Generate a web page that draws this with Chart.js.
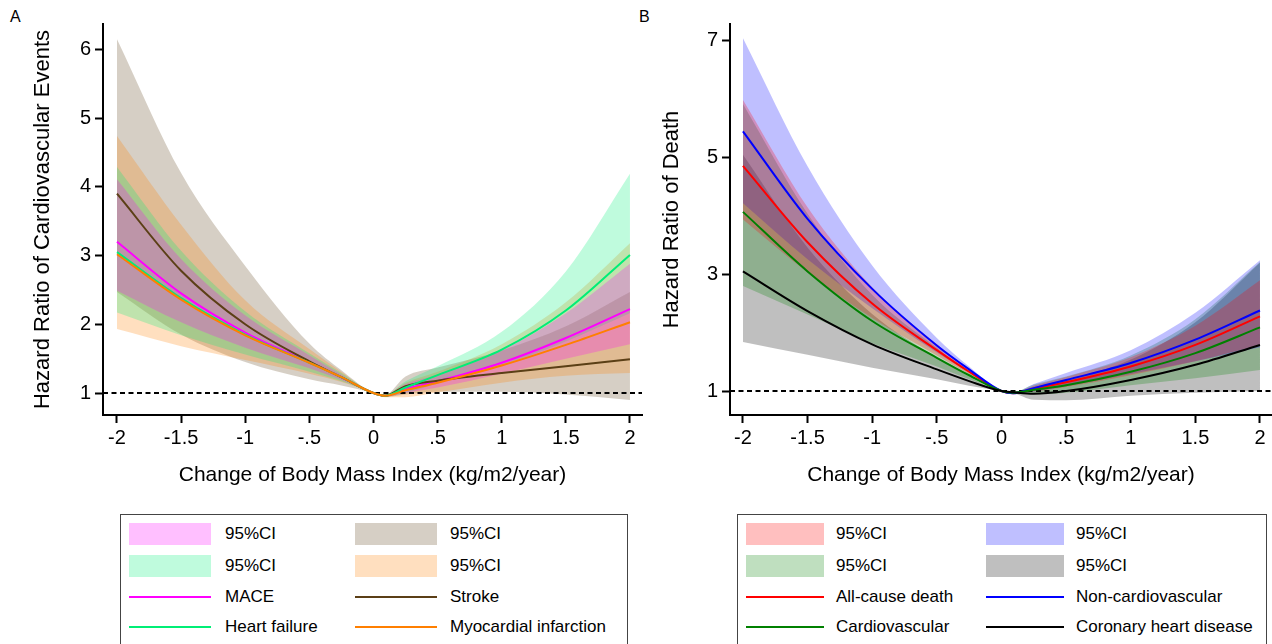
<!DOCTYPE html>
<html>
<head>
<meta charset="utf-8">
<script src="https://cdn.jsdelivr.net/npm/chart.js@4.4.1/dist/chart.umd.min.js"></script>
<style>
  body { margin: 0; width: 1272px; height: 644px; overflow: hidden; background: #fff;
         font-family: "Liberation Sans", Arial, Helvetica, sans-serif; }
  .panel { position: absolute; top: 0; }
  .tag { position: absolute; top: 8px; font-size: 16px; color: #000; }
  .legend { position: absolute; top: 514px; height: 150px; border: 1px solid #444; box-sizing: border-box; }
  .item { position: absolute; font-size: 17px; line-height: 20px; white-space: nowrap; color: #000; }
  .sw { position: absolute; }
</style>
</head>
<body>
<div class="tag" style="left:10px">A</div>
<div class="tag" style="left:639px">B</div>
<canvas id="chartA" class="panel" style="left:0" width="645" height="500"></canvas>
<canvas id="chartB" class="panel" style="left:640px" width="632" height="500"></canvas>
<div id="legA" class="legend" style="left:120px;width:508px"></div>
<div id="legB" class="legend" style="left:737px;width:530px"></div>

<script>
// change of BMI (kg/m2/year)
const bmiChange = [-2, -1.5, -1, -0.5, -0.25, 0, 0.09, 0.25, 0.5, 1, 1.5, 2];
const xTicks = [-2, -1.5, -1, -0.5, 0, 0.5, 1, 1.5, 2];
const xTickLabels = ['-2', '-1.5', '-1', '-.5', '0', '.5', '1', '1.5', '2'];
const refHR = 1;

// panel A - cardiovascular events
const maceHR   = [3.20, 2.45, 1.88, 1.45, 1.23, 1.00, 0.96, 1.06, 1.17, 1.44, 1.80, 2.22];
const maceLo   = [2.49, 2.03, 1.66, 1.36, 1.19, 1.00, 0.95, 1.00, 1.08, 1.28, 1.50, 1.71];
const maceHi   = [4.11, 2.95, 2.13, 1.55, 1.27, 1.00, 0.97, 1.13, 1.27, 1.62, 2.16, 2.88];
const strokeHR = [3.90, 2.78, 2.00, 1.46, 1.23, 1.00, 0.96, 1.10, 1.18, 1.29, 1.39, 1.49];
const strokeLo = [2.47, 1.85, 1.45, 1.20, 1.11, 1.00, 0.945, 0.98, 1.02, 1.02, 0.98, 0.90];
const strokeHi = [6.15, 4.20, 2.85, 1.72, 1.33, 1.00, 0.975, 1.24, 1.37, 1.62, 1.97, 2.47];
const hfHR     = [3.05, 2.38, 1.85, 1.44, 1.23, 1.00, 0.96, 1.08, 1.26, 1.63, 2.20, 3.01];
const hfLo     = [2.17, 1.84, 1.56, 1.31, 1.17, 1.00, 0.95, 1.00, 1.14, 1.40, 1.75, 2.16];
const hfHi     = [4.29, 3.07, 2.19, 1.58, 1.29, 1.00, 0.97, 1.17, 1.39, 1.89, 2.77, 4.19];
const miHR     = [3.02, 2.36, 1.84, 1.44, 1.23, 1.00, 0.96, 1.04, 1.15, 1.40, 1.70, 2.03];
const miLo     = [1.93, 1.68, 1.48, 1.28, 1.16, 1.00, 0.94, 0.94, 1.01, 1.15, 1.25, 1.29];
const miHi     = [4.74, 3.45, 2.35, 1.64, 1.31, 1.00, 0.98, 1.15, 1.31, 1.71, 2.32, 3.18];
const yTicksA = [1, 2, 3, 4, 5, 6];

// panel B - death
const allHR    = [4.86, 3.55, 2.50, 1.70, 1.33, 1.00, 0.96, 1.04, 1.15, 1.42, 1.79, 2.28];
const allLo    = [3.94, 3.03, 2.25, 1.61, 1.29, 1.00, 0.95, 0.99, 1.07, 1.27, 1.51, 1.79];
const allHi    = [5.99, 4.15, 2.78, 1.80, 1.37, 1.00, 0.97, 1.09, 1.24, 1.58, 2.12, 2.90];
const noncvHR  = [5.45, 3.95, 2.75, 1.78, 1.37, 1.00, 0.96, 1.05, 1.19, 1.48, 1.88, 2.38];
const noncvLo  = [4.22, 3.26, 2.42, 1.66, 1.32, 1.00, 0.95, 0.99, 1.08, 1.29, 1.51, 1.75];
const noncvHi  = [7.05, 4.85, 3.15, 1.91, 1.42, 1.00, 0.97, 1.12, 1.31, 1.70, 2.34, 3.24];
const cvHR     = [4.07, 3.05, 2.20, 1.57, 1.27, 1.00, 0.97, 1.02, 1.10, 1.33, 1.65, 2.09];
const cvLo     = [2.80, 2.31, 1.82, 1.42, 1.20, 1.00, 0.96, 0.94, 0.97, 1.10, 1.22, 1.36];
const cvHi     = [5.92, 4.04, 2.65, 1.74, 1.34, 1.00, 0.98, 1.11, 1.25, 1.61, 2.23, 3.21];
const chdHR    = [3.05, 2.37, 1.80, 1.37, 1.17, 1.00, 0.98, 0.955, 1.00, 1.19, 1.45, 1.79];
const chdLo    = [1.84, 1.62, 1.40, 1.20, 1.09, 1.00, 0.965, 0.85, 0.84, 0.92, 0.97, 1.00];
const chdHi    = [5.05, 3.46, 2.32, 1.57, 1.25, 1.00, 0.995, 1.07, 1.19, 1.54, 2.18, 3.20];
const yTicksB = [1, 3, 5, 7];

const FONT = '"Liberation Sans", Arial, Helvetica, sans-serif';

function fade(hex, a) {
  const n = parseInt(hex.slice(1), 16);
  return `rgba(${n >> 16}, ${(n >> 8) & 255}, ${n & 255}, ${a})`;
}
const pts = ys => bmiChange.map((x, i) => ({ x: x, y: ys[i] }));

function makePanel(id, p) {
  const ds = [];
  // CI bands: bigger 'band' rank = drawn later (on top)
  p.series.forEach(s => {
    ds.push({ data: pts(s.lo), borderWidth: 0, pointRadius: 0, fill: false, order: 40 - s.band });
    ds.push({ data: pts(s.hi), borderWidth: 0, pointRadius: 0, fill: '-1',
              backgroundColor: fade(s.color, 0.25), order: 40 - s.band });
  });
  ds.push({ data: [{ x: p.xMin, y: refHR }, { x: p.xMax, y: refHR }], borderColor: '#000',
            borderWidth: 2, borderDash: [5, 3.5], pointRadius: 0, fill: false, order: 20 });
  p.series.forEach((s, i) => {
    ds.push({ data: pts(s.hr), borderColor: s.color, borderWidth: 2, pointRadius: 0,
              fill: false, order: 10 - i });
  });

  new Chart(document.getElementById(id), {
    type: 'line',
    data: { datasets: ds },
    options: {
      animation: false,
      responsive: false,
      devicePixelRatio: 1,
      elements: { line: { cubicInterpolationMode: 'monotone' } },
      layout: { padding: { top: 24, right: p.rightPad, left: 0, bottom: 0 } },
      plugins: { legend: { display: false }, tooltip: { enabled: false } },
      scales: {
        x: {
          type: 'linear', min: p.xMin, max: p.xMax,
          afterBuildTicks: s => { s.ticks = xTicks.map(v => ({ value: v })); },
          afterFit: s => { s.height = 85; },
          ticks: { callback: v => xTickLabels[xTicks.indexOf(v)], color: '#000',
                   font: { family: FONT, size: 20 }, padding: 3, autoSkip: false, maxRotation: 0 },
          grid: { drawOnChartArea: false, tickLength: 8, tickWidth: 2, tickColor: '#000' },
          border: { color: '#000', width: 2 },
          title: { display: true, text: 'Change of Body Mass Index (kg/m2/year)', color: '#000',
                   font: { family: FONT, size: 21 }, padding: { top: 0, bottom: 12 } }
        },
        y: {
          type: 'linear', min: p.yMin, max: p.yMax,
          afterBuildTicks: s => { s.ticks = p.yTicks.map(v => ({ value: v })); },
          afterFit: s => { s.width = p.yWidth; },
          ticks: { callback: v => String(v), color: '#000', font: { family: FONT, size: 20 }, padding: 4 },
          grid: { drawOnChartArea: false, tickLength: 8, tickWidth: 2, tickColor: '#000' },
          border: { color: '#000', width: 2 },
          title: { display: true, text: p.yTitle, color: '#000',
                   font: { family: FONT, size: 22 }, padding: { top: p.yTitlePad, bottom: 0 } }
        }
      }
    }
  });
}

makePanel('chartA', {
  series: [
    { hr: maceHR, lo: maceLo, hi: maceHi, color: '#ff00ff', band: 4 },
    { hr: strokeHR, lo: strokeLo, hi: strokeHi, color: '#5b3f16', band: 1 },
    { hr: hfHR, lo: hfLo, hi: hfHi, color: '#00ee76', band: 3 },
    { hr: miHR, lo: miLo, hi: miHi, color: '#ff7f00', band: 2 }
  ],
  xMin: -2.109, xMax: 2.094, yMin: 0.68, yMax: 6.37, yTicks: yTicksA,
  yWidth: 103, rightPad: 3, yTitlePad: 30,
  yTitle: 'Hazard Ratio of Cardiovascular Events'
});

makePanel('chartB', {
  series: [
    { hr: allHR, lo: allLo, hi: allHi, color: '#ff0000', band: 4 },
    { hr: noncvHR, lo: noncvLo, hi: noncvHi, color: '#0000ff', band: 3 },
    { hr: cvHR, lo: cvLo, hi: cvHi, color: '#008000', band: 2 },
    { hr: chdHR, lo: chdLo, hi: chdHi, color: '#000000', band: 1 }
  ],
  xMin: -2.1, xMax: 2.093, yMin: 0.589, yMax: 7.29, yTicks: yTicksB,
  yWidth: 90, rightPad: 0, yTitlePad: 19,
  yTitle: 'Hazard Ratio of Death'
});

// legends (row-first, two columns)
const legendLabelsA = ['95%CI', '95%CI', '95%CI', '95%CI', 'MACE', 'Stroke', 'Heart failure', 'Myocardial infarction'];
const legendLabelsB = ['95%CI', '95%CI', '95%CI', '95%CI', 'All-cause death', 'Non-cardiovascular', 'Cardiovascular', 'Coronary heart disease'];

function drawLegend(id, labels, colors, geo) {
  const box = document.getElementById(id);
  const rows = [19, 51, 82, 112];
  labels.forEach((txt, i) => {
    const col = i % 2, row = Math.floor(i / 2);
    const cy = rows[row];
    const sw = document.createElement('div');
    sw.className = 'sw';
    sw.style.left = geo.swLeft[col] + 'px';
    sw.style.width = geo.swWidth + 'px';
    if (row < 2) {
      sw.style.top = (cy - 11) + 'px';
      sw.style.height = '22px';
      sw.style.background = fade(colors[i], 0.25);
    } else {
      sw.style.top = (cy - 1) + 'px';
      sw.style.height = '2px';
      sw.style.background = colors[i];
    }
    box.appendChild(sw);
    const t = document.createElement('div');
    t.className = 'item';
    t.textContent = txt;
    t.style.left = geo.textLeft[col] + 'px';
    t.style.top = (cy - 10) + 'px';
    box.appendChild(t);
  });
}

drawLegend('legA', legendLabelsA,
  ['#ff00ff', '#5b3f16', '#00ee76', '#ff7f00', '#ff00ff', '#5b3f16', '#00ee76', '#ff7f00'],
  { swLeft: [8, 234], swWidth: 82, textLeft: [104, 329] });
drawLegend('legB', legendLabelsB,
  ['#ff0000', '#0000ff', '#008000', '#000000', '#ff0000', '#0000ff', '#008000', '#000000'],
  { swLeft: [8, 248], swWidth: 78, textLeft: [98, 338] });
</script>
</body>
</html>
